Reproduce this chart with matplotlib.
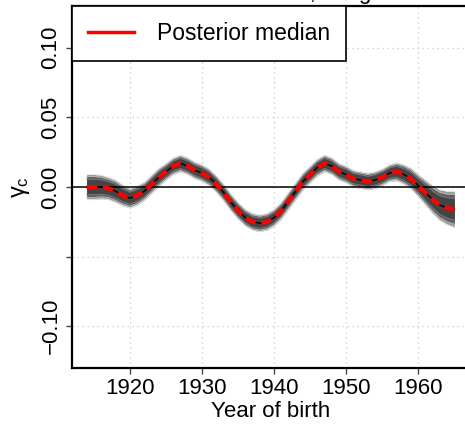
import matplotlib
matplotlib.use("Agg")
import matplotlib.pyplot as plt
import numpy as np

plt.rcParams['font.family'] = ['Liberation Sans', 'DejaVu Sans']
plt.rcParams['mathtext.fontset'] = 'custom'
plt.rcParams['mathtext.rm'] = 'Liberation Sans'
plt.rcParams['mathtext.it'] = 'Liberation Sans'

years = list(range(1914, 1966))
median = [0.000, 0.000, 0.000, -0.001, -0.003, -0.006, -0.008, -0.006, -0.003, 0.002,
          0.007, 0.011, 0.015, 0.017, 0.015, 0.012, 0.010, 0.007, 0.002, -0.004,
          -0.011, -0.017, -0.022, -0.025, -0.026, -0.025, -0.022, -0.017, -0.010, -0.003,
          0.004, 0.009, 0.014, 0.017, 0.015, 0.011, 0.009, 0.006, 0.005, 0.004,
          0.005, 0.007, 0.010, 0.011, 0.009, 0.006, 0.001, -0.004, -0.009, -0.013,
          -0.015, -0.016]
outer_hw = [0.009, 0.009, 0.0085, 0.008, 0.008, 0.0075, 0.007, 0.007, 0.0065, 0.0065,
            0.0065, 0.006, 0.006, 0.006, 0.006, 0.006, 0.006, 0.006, 0.006, 0.006,
            0.006, 0.006, 0.006, 0.006, 0.006, 0.006, 0.006, 0.006, 0.006, 0.006,
            0.006, 0.006, 0.006, 0.006, 0.006, 0.006, 0.006, 0.006, 0.006, 0.006,
            0.006, 0.006, 0.006, 0.0065, 0.007, 0.0075, 0.008, 0.009, 0.010, 0.011,
            0.012, 0.013]
mid_hw = [0.0075, 0.0075, 0.007, 0.0066, 0.0066, 0.0062, 0.0058, 0.0058, 0.0054, 0.0054,
          0.0054, 0.005, 0.005, 0.005, 0.005, 0.005, 0.005, 0.005, 0.005, 0.005,
          0.005, 0.005, 0.005, 0.005, 0.005, 0.005, 0.005, 0.005, 0.005, 0.005,
          0.005, 0.005, 0.005, 0.005, 0.005, 0.005, 0.005, 0.005, 0.005, 0.005,
          0.005, 0.005, 0.005, 0.0054, 0.0058, 0.0062, 0.0066, 0.0075, 0.0083, 0.0091,
          0.0099, 0.0107]
inner_hw = [0.0055, 0.0055, 0.0052, 0.0049, 0.0049, 0.0046, 0.0043, 0.0043, 0.004, 0.004,
            0.004, 0.0037, 0.0037, 0.0037, 0.0037, 0.0037, 0.0037, 0.0037, 0.0037, 0.0037,
            0.0037, 0.0037, 0.0037, 0.0037, 0.0037, 0.0037, 0.0037, 0.0037, 0.0037, 0.0037,
            0.0037, 0.0037, 0.0037, 0.0037, 0.0037, 0.0037, 0.0037, 0.0037, 0.0037, 0.0037,
            0.0037, 0.0037, 0.0037, 0.004, 0.0043, 0.0046, 0.0049, 0.0055, 0.0061, 0.0067,
            0.0073, 0.0079]
xticks = [1920, 1930, 1940, 1950, 1960]
yticks = [-0.10, -0.05, 0.00, 0.05, 0.10]
ytick_labels = ['\u22120.10', '', '0.00', '0.05', '0.10']

x = np.array(years, dtype=float)
m = np.array(median)

fig = plt.figure(figsize=(4.65, 4.24), dpi=100)
ax = fig.add_axes([72/465, 56/424, 397/465, 362/424])
ax.set_xlim(1911.96, 1967.04)
ax.set_ylim(-0.13, 0.13)

ax.grid(True, color='#c8c8c8', linestyle=(0, (1, 3)), linewidth=0.9)
ax.set_axisbelow(True)

for hw, fc, ec in [(outer_hw, '#9a9a9a', '#e8e8e8'),
                   (mid_hw, '#5e5e5e', '#b8b8b8'),
                   (inner_hw, '#444444', '#7a7a7a')]:
    hw = np.array(hw)
    ax.fill_between(x, m - hw, m + hw, color=fc, linewidth=0, zorder=2)
    ax.plot(x, m - hw, color=ec, lw=0.7, zorder=2.5)
    ax.plot(x, m + hw, color=ec, lw=0.7, zorder=2.5)

ax.axhline(0, color='black', lw=1.1, zorder=3)
ax.plot(x, m, color='black', lw=1.0, zorder=4)
ax.plot(x, m, color='#ff0000', lw=3, dashes=(2.5, 1.4), zorder=5)

ax.set_xticks(xticks)
ax.set_yticks(yticks)
ax.set_yticklabels(ytick_labels, rotation=90, va='center')
ax.tick_params(axis='both', labelsize=16, length=4.5, width=1, color='#444444')
ax.tick_params(axis='x', pad=3)
ax.tick_params(axis='y', pad=3)
ax.set_xlabel('Year of birth', fontsize=16, labelpad=1)
ax.set_ylabel(r'$\gamma_\mathrm{c}$', fontsize=17, rotation=90, labelpad=6)

for s in ['left', 'bottom', 'top', 'right']:
    ax.spines[s].set_linewidth(1.6)

from matplotlib.lines import Line2D
h = Line2D([0], [0], color='#ff0000', lw=2.5)
leg = ax.legend([h], ['Posterior median'], loc='upper left', bbox_to_anchor=(0, 1),
                borderaxespad=0, fancybox=False, framealpha=1, edgecolor='black',
                fontsize=16.5, handlelength=2.0, borderpad=0.7, handletextpad=1.0)
leg.get_frame().set_linewidth(1.2)
leg.set_zorder(10)

fig.text(270/465, 1 + 0.5/424, 'Low-educated Males, Long series', ha='center',
         va='baseline', fontsize=16)

fig.savefig('out.png', dpi=100)
